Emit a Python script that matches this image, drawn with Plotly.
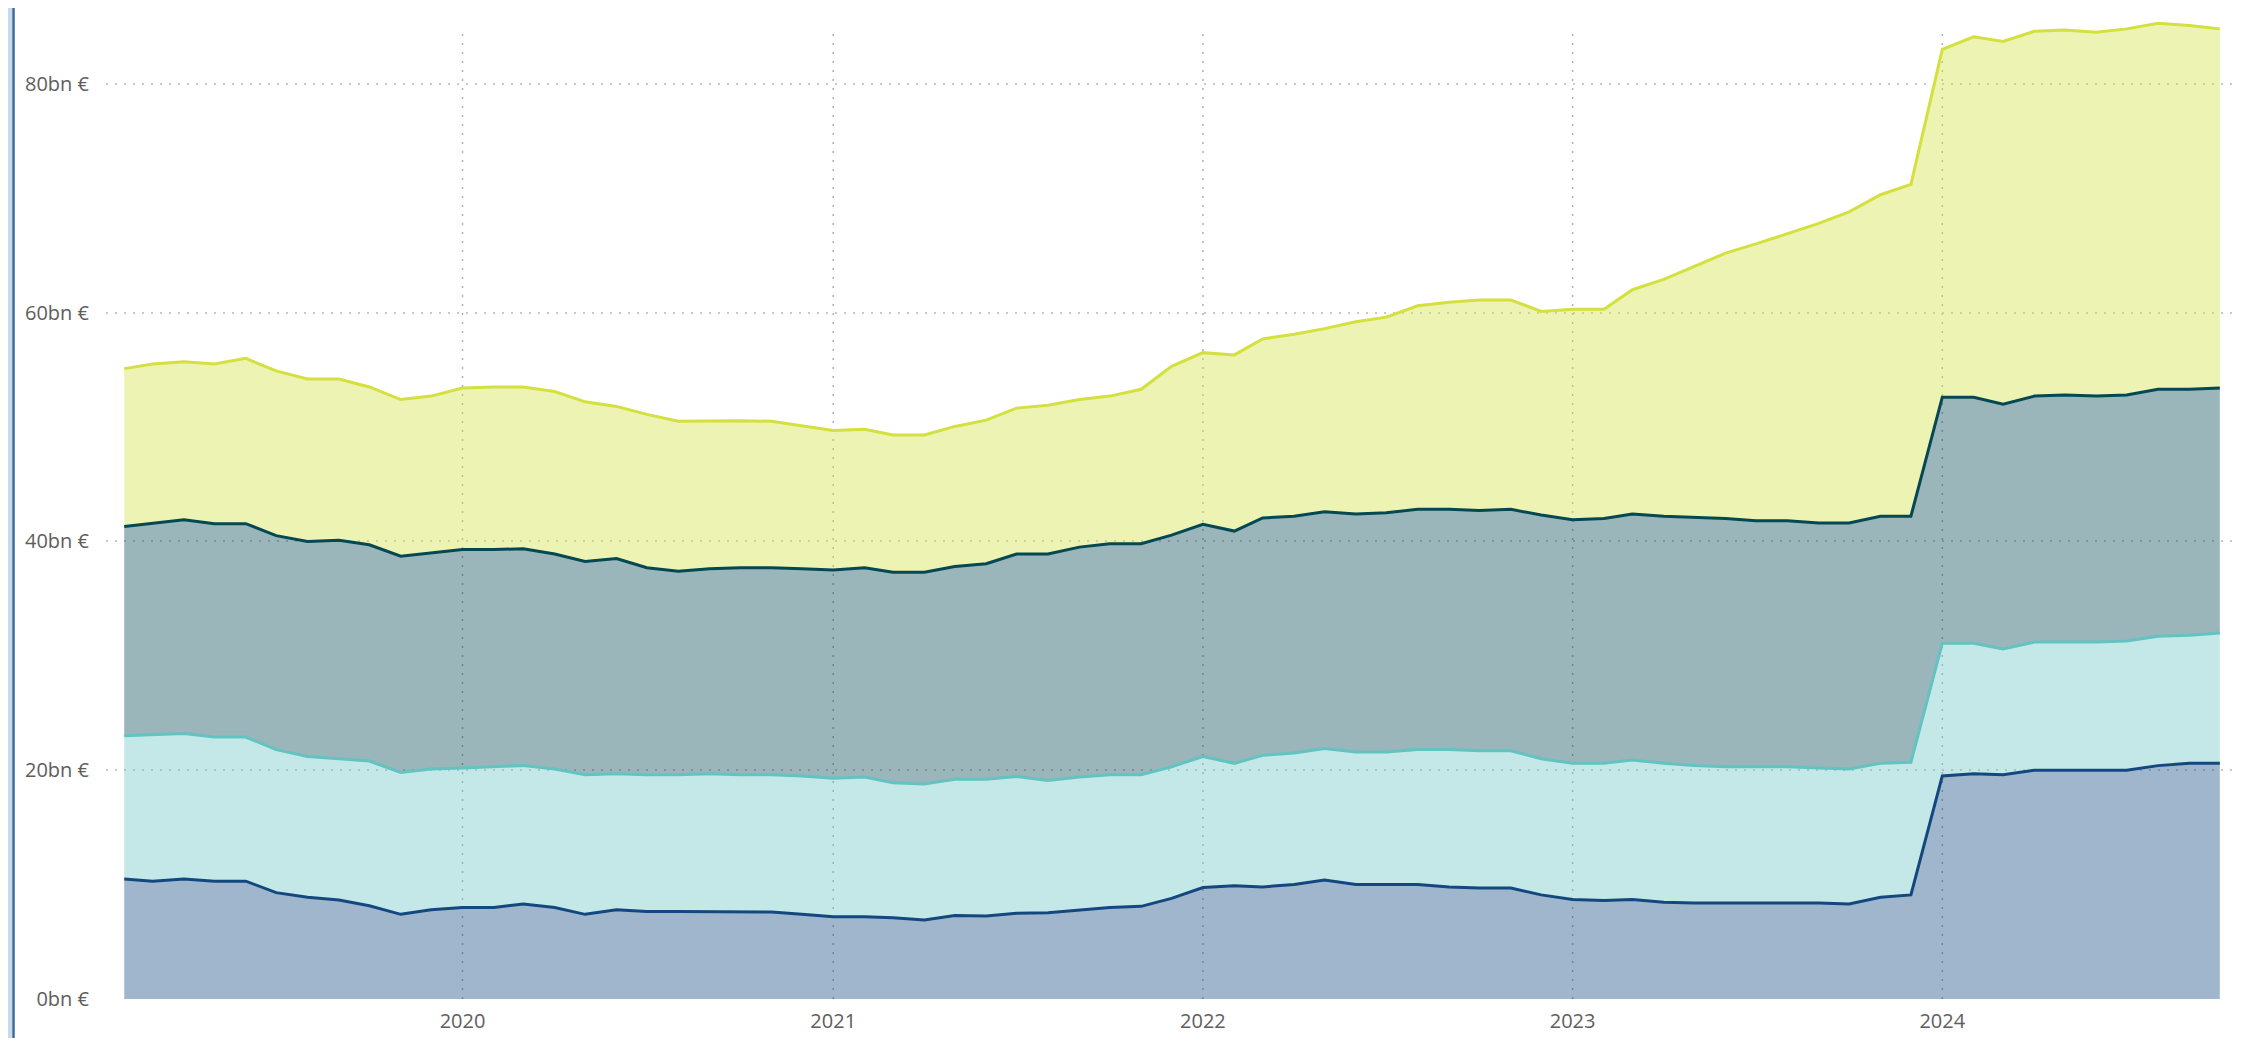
import pandas as pd
import plotly.graph_objects as go

# Monthly observations, Feb 2019 - Oct 2024
months = pd.date_range("2019-02-01", periods=69, freq="MS")

# Component values (bn EUR), bottom to top of the stack
series_1 = [
    10.5, 10.3, 10.5, 10.3, 10.3, 9.3, 8.9, 8.65, 8.15, 7.4, 7.8,
    8.0, 8.0, 8.3, 8.0, 7.4, 7.8, 7.65, 7.65, 7.65, 7.6, 7.6, 7.4,
    7.2, 7.2, 7.1, 6.9, 7.3, 7.25, 7.5, 7.55, 7.8, 8.0, 8.1, 8.8,
    9.75, 9.9, 9.8, 10.0, 10.4, 10.0, 10.0, 10.0, 9.8, 9.7, 9.7, 9.1,
    8.7, 8.6, 8.7, 8.45, 8.4, 8.4, 8.4, 8.4, 8.4, 8.3, 8.9, 9.1,
    19.5, 19.7, 19.6, 20.0, 20.0, 19.95, 20.0, 20.4, 20.6, 20.6,
]
series_2 = [
    12.5, 12.8, 12.7, 12.6, 12.6, 12.5, 12.3, 12.35, 12.65, 12.4, 12.3,
    12.2, 12.3, 12.1, 12.1, 12.2, 11.9, 11.95, 11.95, 12.05, 12.0, 12.0, 12.1,
    12.1, 12.2, 11.8, 11.9, 11.9, 11.95, 11.95, 11.55, 11.6, 11.6, 11.5, 11.5,
    11.45, 10.7, 11.5, 11.5, 11.5, 11.6, 11.6, 11.8, 12.0, 12.0, 12.0, 11.9,
    11.9, 12.0, 12.2, 12.15, 12.0, 11.9, 11.9, 11.9, 11.8, 11.8, 11.7, 11.6,
    11.6, 11.4, 11.0, 11.2, 11.2, 11.25, 11.3, 11.3, 11.2, 11.4,
]
series_3 = [
    18.3, 18.5, 18.7, 18.65, 18.65, 18.7, 18.8, 19.1, 18.9, 18.9, 18.9,
    19.1, 19.0, 18.95, 18.8, 18.65, 18.8, 18.1, 17.8, 17.9, 18.1, 18.1, 18.1,
    18.2, 18.3, 18.4, 18.5, 18.6, 18.85, 19.45, 19.8, 20.1, 20.2, 20.2, 20.25,
    20.3, 20.3, 20.75, 20.7, 20.7, 20.8, 20.9, 21.0, 21.0, 21.0, 21.1, 21.3,
    21.3, 21.4, 21.5, 21.6, 21.7, 21.7, 21.5, 21.5, 21.4, 21.5, 21.6, 21.5,
    21.5, 21.5, 21.4, 21.5, 21.6, 21.5, 21.5, 21.6, 21.5, 21.4,
]
series_4 = [
    13.8, 13.9, 13.8, 13.95, 14.45, 14.4, 14.2, 14.1, 13.8, 13.7, 13.7,
    14.1, 14.2, 14.15, 14.2, 13.95, 13.3, 13.4, 13.1, 12.95, 12.85, 12.8, 12.5,
    12.2, 12.1, 12.0, 12.0, 12.25, 12.55, 12.75, 13.0, 12.9, 12.9, 13.5, 14.75,
    15.0, 15.4, 15.65, 15.9, 16.0, 16.8, 17.1, 17.8, 18.1, 18.4, 18.3, 17.8,
    18.4, 18.3, 19.6, 20.7, 21.9, 23.2, 24.2, 25.1, 26.2, 27.2, 28.1, 29.0,
    30.4, 31.5, 31.7, 31.9, 31.9, 31.8, 32.0, 32.0, 31.8, 31.4,
]

series_names = ["Series 1", "Series 2", "Series 3", "Series 4"]
line_colors = ["#12487F", "#63C3C0", "#034852", "#D3E03E"]
fill_colors = ["rgba(18,72,127,0.40)", "rgba(99,195,192,0.38)",
               "rgba(3,72,82,0.40)", "rgba(211,224,62,0.40)"]

y_tick_vals = [0, 20, 40, 60, 80]
y_tick_text = ["0bn €", "20bn €", "40bn €", "60bn €", "80bn €"]
x_tick_vals = ["2020-01-01", "2021-01-01", "2022-01-01", "2023-01-01", "2024-01-01"]
x_tick_text = ["2020", "2021", "2022", "2023", "2024"]

W, H = 2244, 1038
ML, MR, MT, MB = 98, 19, 10, 47

fig = go.Figure()
for name, vals, lc, fc in zip(series_names,
                              [series_1, series_2, series_3, series_4],
                              line_colors, fill_colors):
    fig.add_trace(go.Scatter(
        x=months, y=vals, name=name, mode="lines",
        stackgroup="one", line=dict(color=lc, width=3),
        fillcolor=fc, hoverinfo="x+y",
    ))

font = dict(family="Segoe UI, Open Sans, sans-serif", size=20, color="#605E5C")

fig.update_layout(
    width=W, height=H,
    margin=dict(l=ML, r=MR, t=MT, b=MB, autoexpand=False),
    paper_bgcolor="white", plot_bgcolor="white",
    showlegend=False, font=font,
    xaxis=dict(
        type="date", range=["2019-01-14", "2024-10-14"],
        tickvals=x_tick_vals, ticktext=x_tick_text,
        showgrid=False, zeroline=False, showline=False, ticks="",
        ticklabelstandoff=8, tickfont=font,
    ),
    yaxis=dict(
        range=[0, 85.75],
        tickvals=y_tick_vals, ticktext=y_tick_text,
        showgrid=True, gridcolor="#C8C8C8", gridwidth=1.5, griddash="2px,7px",
        zeroline=False, showline=False, ticks="", ticklabelstandoff=16,
        tickfont=font,
    ),
)

# Vertical year gridlines, starting a little below the top of the plot area
plot_h = H - MT - MB
grid_top = (H - MB - 20) / plot_h
for tv in x_tick_vals:
    fig.add_shape(type="line", xref="x", yref="paper",
                  x0=tv, x1=tv, y0=0, y1=grid_top,
                  line=dict(color="#B0B0B0", width=1.5, dash="2px,7px"),
                  layer="below")

# Frame on left and right edges of the visual
pw = W - ML - MR
def px_to_paper(px):
    return (px - ML) / pw

fig.add_shape(type="rect", xref="paper", yref="paper",
              x0=px_to_paper(0), x1=px_to_paper(4), y0=-1, y1=2,
              fillcolor="#C9D9EC", line=dict(width=0), layer="above")
fig.add_shape(type="line", xref="paper", yref="paper",
              x0=px_to_paper(5.5), x1=px_to_paper(5.5), y0=-1, y1=2,
              line=dict(color="#3A6B9E", width=2.5), layer="above")
fig.add_shape(type="line", xref="paper", yref="paper",
              x0=px_to_paper(2240.5), x1=px_to_paper(2240.5), y0=-1, y1=2,
              line=dict(color="#3A6B9E", width=2.5), layer="above")
fig.add_shape(type="rect", xref="paper", yref="paper",
              x0=px_to_paper(2242), x1=px_to_paper(2244), y0=-1, y1=2,
              fillcolor="#C9D9EC", line=dict(width=0), layer="above")

fig.write_html("out.html")
